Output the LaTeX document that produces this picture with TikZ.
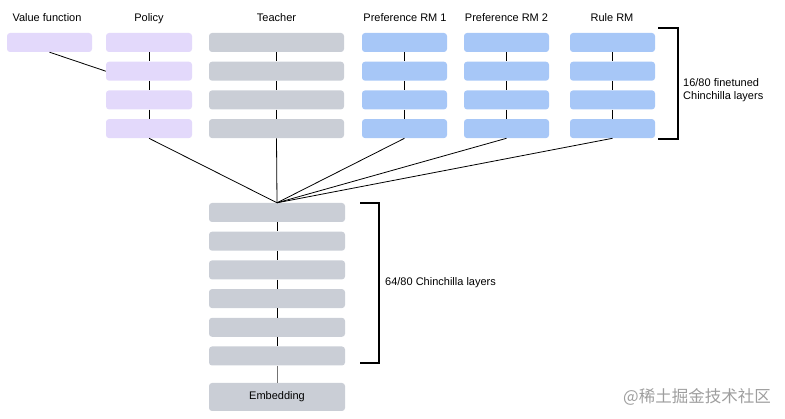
\documentclass[tikz,border=0pt]{standalone}
\usepackage{fontspec}
\setmainfont{Liberation Sans}
\newfontfamily\cjkfont{Noto Sans CJK SC}
\usepackage{xcolor}
\usetikzlibrary{positioning}

\definecolor{lav}{HTML}{E3D9FB}
\definecolor{slate}{HTML}{CACED6}
\definecolor{sky}{HTML}{A7C7F7}

\begin{document}
\begin{tikzpicture}[
  x=1pt, y=-1pt,
  node distance=9.3pt,
  box/.style={fill=#1, rounded corners=3pt, inner sep=0pt, minimum height=19pt},
  lbl/.style={font=\fontsize{11}{13}\selectfont, anchor=base, inner sep=0pt},
  link/.style={draw=black, line width=0.8pt},
  brace/.style={draw=black, line width=1.4pt}
]
\useasboundingbox (0,0) rectangle (785,419);

% Top columns
\node[box=lav, minimum width=85pt] (vf) at (49.5,42.5) {};
\node[box=lav, minimum width=86pt] (p1) at (149,42.5) {};
\node[box=lav, minimum width=86pt, below=of p1] (p2) {};
\node[box=lav, minimum width=86pt, below=of p2] (p3) {};
\node[box=lav, minimum width=86pt, below=of p3] (p4) {};

\node[box=slate, minimum width=135pt] (t1) at (276.5,42.5) {};
\node[box=slate, minimum width=135pt, below=of t1] (t2) {};
\node[box=slate, minimum width=135pt, below=of t2] (t3) {};
\node[box=slate, minimum width=135pt, below=of t3] (t4) {};

\node[box=sky, minimum width=85pt] (a1) at (404.5,42.5) {};
\node[box=sky, minimum width=85pt, below=of a1] (a2) {};
\node[box=sky, minimum width=85pt, below=of a2] (a3) {};
\node[box=sky, minimum width=85pt, below=of a3] (a4) {};

\node[box=sky, minimum width=85pt] (b1) at (506.5,42.5) {};
\node[box=sky, minimum width=85pt, below=of b1] (b2) {};
\node[box=sky, minimum width=85pt, below=of b2] (b3) {};
\node[box=sky, minimum width=85pt, below=of b3] (b4) {};

\node[box=sky, minimum width=85pt] (r1) at (612.5,42.5) {};
\node[box=sky, minimum width=85pt, below=of r1] (r2) {};
\node[box=sky, minimum width=85pt, below=of r2] (r3) {};
\node[box=sky, minimum width=85pt, below=of r3] (r4) {};

% Column titles
\node[lbl] (lvf) at (47,21.5) {Value function};
\node[lbl] (lp) at (149,21.5) {Policy};
\node[lbl] (lt) at (276.5,21.5) {Teacher};
\node[lbl] (la) at (405,21.5) {Preference RM 1};
\node[lbl] (lb) at (506.5,21.5) {Preference RM 2};
\node[lbl] (lr) at (612,21.5) {Rule RM};

% Shared trunk
\node[box=slate, minimum width=136pt] (c1) at (277,212.5) {};
\node[box=slate, minimum width=136pt, below=of c1] (c2) {};
\node[box=slate, minimum width=136pt, below=of c2] (c3) {};
\node[box=slate, minimum width=136pt, below=of c3] (c4) {};
\node[box=slate, minimum width=136pt, below=of c4] (c5) {};
\node[box=slate, minimum width=136pt, below=of c5] (c6) {};
\node[box=slate, minimum width=136pt, minimum height=28pt,
      font=\fontsize{11}{13}\selectfont] (emb) at (277,397) {Embedding};

% Pointers
\draw[link] (vf.south) -- (p2.west);
\draw[link] (p1) -- (p2); \draw[link] (p2) -- (p3); \draw[link] (p3) -- (p4);
\draw[link] (t1) -- (t2); \draw[link] (t2) -- (t3); \draw[link] (t3) -- (t4);
\draw[link] (a1) -- (a2); \draw[link] (a2) -- (a3); \draw[link] (a3) -- (a4);
\draw[link] (b1) -- (b2); \draw[link] (b2) -- (b3); \draw[link] (b3) -- (b4);
\draw[link] (r1) -- (r2); \draw[link] (r2) -- (r3); \draw[link] (r3) -- (r4);
\draw[link] (p4.south) -- (c1.north);
\draw[link] (t4.south) -- (c1.north);
\draw[link] (a4.south) -- (c1.north);
\draw[link] (b4.south) -- (c1.north);
\draw[link] (r4.south) -- (c1.north);
\draw[link] (c1) -- (c2); \draw[link] (c2) -- (c3); \draw[link] (c3) -- (c4);
\draw[link] (c4) -- (c5); \draw[link] (c5) -- (c6);
\draw[link, draw=black!55] (c6) -- (emb);

% Brackets
\draw[brace] (658,28) -- (678,28) -- (678,139) -- (658,139);
\node[lbl, anchor=west, align=left] (top) at (683,90) {16/80 finetuned\\Chinchilla layers};
\draw[brace] (360,203) -- (379,203) -- (379,363) -- (360,363);
\node[lbl, anchor=west] (trunk) at (385,283) {64/80 Chinchilla layers};

\node[font=\cjkfont\fontsize{16.5}{19}\selectfont, text=black!38, inner sep=0pt] (wm) at (697,397) {@稀土掘金技术社区};
\end{tikzpicture}
\end{document}
